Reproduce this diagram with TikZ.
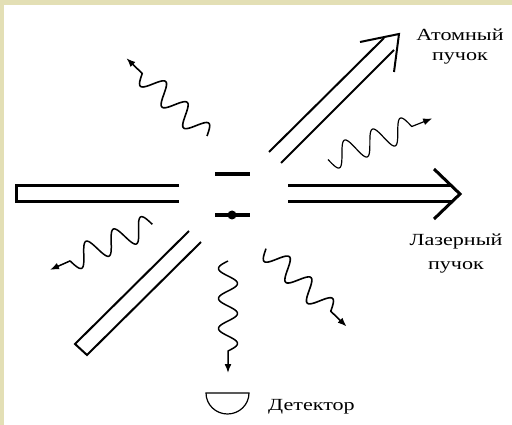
\documentclass[tikz,border=0pt]{standalone}
\usepackage{fontspec}
\setmainfont[FakeStretch=1.3]{Liberation Serif}
\usetikzlibrary{arrows.meta}
\definecolor{frameclr}{HTML}{E3DFB5}
\begin{document}
\begin{tikzpicture}[x=1pt,y=-1pt,>={Latex[length=9pt,width=7pt]},font=\fontsize{17}{20}\selectfont,
  beam/.style={line width=2pt},laser/.style={line width=3pt,line cap=butt},
  wave/.style={->,line join=round},lab/.style={align=center,inner sep=0pt}]
\useasboundingbox (0,0) rectangle (512,425);
\fill[frameclr] (0,0) rectangle (512,425);
\fill[white] (4,5) rectangle (512,425);
% laser beam, slits
\draw[laser,miter limit=4] (179,186)--(16,186)--(16,202)--(179,202);
\draw[laser] (288,186)--(452,186) (288,202)--(452,202);
\draw[laser] (434,169)--(460,194)--(434,219);
\foreach \y in {174,215}{\draw[line width=3.2pt] (215,\y)--(250,\y);}
\fill (232,215) circle (4.5);
% atomic beam
\draw[beam] (189,231)--(75,344)--(87,355)--(201,242);
\draw[beam] (269,152)--(384,38) (281,163)--(394,50);
\draw[beam] (360,42)--(399,34)--(394,72);
% scattered light
\foreach \sx/\sy/\ang/\amp/\lw in {207/136/136/10.5/1.6,328/159.5/21.5/12/1.2,152.3/224.3/204/11.5/1.5,228/261/270/9.5/1.5,266/248.7/316/10.5/1.6}{
\draw[wave,line width=\lw pt,shift={(\sx,\sy)},rotate=\ang] plot[domain=0:90,samples=91] (\x,{\amp*sin(12*\x)}) -- (112,0);}
% detector
\draw[line width=1.2pt] (206,393)--(249,393) arc[start angle=0,end angle=180,x radius=21.5,y radius=21]--cycle;
\node[lab] (detlab) at (311.5,407) {Детектор};
\node[lab] (atomlab) at (460,47) {Атомный\\пучок};
\node[lab] (laserlab) at (456,254) {Лазерный\\[4pt]пучок};
\end{tikzpicture}
\end{document}
